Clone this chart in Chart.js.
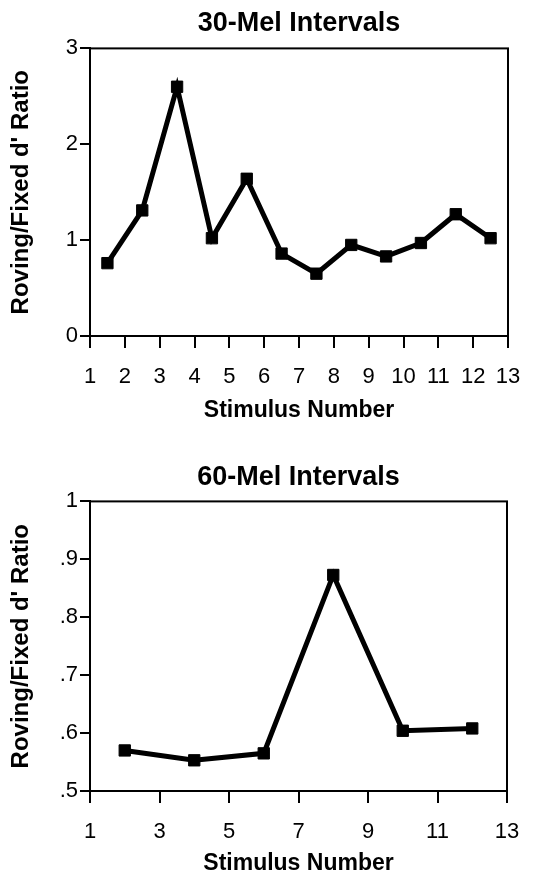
<!DOCTYPE html>
<html>
<head>
<meta charset="utf-8">
<script src="https://cdn.jsdelivr.net/npm/chart.js@4.4.1/dist/chart.umd.min.js"></script>
<style>
  body { margin: 0; background: #fff; }
  #wrap { position: relative; width: 533px; height: 875px; }
  canvas { position: absolute; left: 0; }
  #top { top: 0; }
  #bottom { top: 430px; }
</style>
</head>
<body>
<div id="wrap">
  <canvas id="top" width="533" height="428"></canvas>
  <canvas id="bottom" width="533" height="445"></canvas>
</div>
<script>
// DATOS
const stimulus30 = [1.5, 2.5, 3.5, 4.5, 5.5, 6.5, 7.5, 8.5, 9.5, 10.5, 11.5, 12.5];
const ratio30 = [0.76, 1.31, 2.60, 1.02, 1.64, 0.86, 0.65, 0.95, 0.83, 0.97, 1.27, 1.02];

const stimulus60 = [2, 4, 6, 8, 10, 12];
const ratio60 = [0.570, 0.553, 0.565, 0.873, 0.604, 0.608];

const xRange = [1, 13];
const yRange30 = [0, 3];
const yRange60 = [0.5, 1];

const titles = ['30-Mel Intervals', '60-Mel Intervals'];
const xTitle = 'Stimulus Number';
const yTitle = "Roving/Fixed d' Ratio";

Chart.defaults.font.family = '"Liberation Sans", Arial, sans-serif';
Chart.defaults.color = '#000';

// marco completo del area del grafico
const boxPlugin = {
  id: 'box',
  afterDraw(chart) {
    const a = chart.chartArea;
    const ctx = chart.ctx;
    ctx.save();
    ctx.strokeStyle = '#000';
    ctx.lineWidth = 2;
    ctx.strokeRect(a.left, a.top, a.right - a.left, a.bottom - a.top);
    ctx.restore();
  }
};

function makeChart(id, opts) {
  const ctx = document.getElementById(id).getContext('2d');
  return new Chart(ctx, {
    type: 'line',
    data: {
      datasets: [{
        data: opts.xs.map((x, i) => ({ x: x, y: opts.ys[i] })),
        borderColor: '#000',
        backgroundColor: '#000',
        borderWidth: 5,
        pointStyle: 'rect',
        pointRadius: 8,
        pointBorderWidth: 1,
        tension: 0
      }]
    },
    options: {
      responsive: false,
      animation: false,
      layout: { padding: { left: 0, right: opts.padRight, top: 0, bottom: 0 } },
      plugins: {
        legend: { display: false },
        tooltip: { enabled: false },
        title: {
          display: true,
          fullSize: false,
          text: opts.title,
          font: { size: 27, weight: 'bold' },
          padding: opts.titlePad
        }
      },
      scales: {
        x: {
          type: 'linear',
          min: xRange[0],
          max: xRange[1],
          ticks: { stepSize: opts.xStep, font: { size: 22 }, padding: 16, color: '#000' },
          grid: { drawOnChartArea: false, drawTicks: true, tickLength: 12, color: '#000', lineWidth: 2 },
          border: { color: '#000', width: 2 },
          title: { display: true, text: xTitle, font: { size: 23, weight: 'bold', lineHeight: 1 }, padding: { top: 0, bottom: opts.xTitlePad } },
          afterFit: (scale) => {
            scale.height = opts.xHeight;
            scale.paddingLeft = 0;
            scale.paddingRight = 0;
          }
        },
        y: {
          min: opts.yRange[0],
          max: opts.yRange[1],
          ticks: { stepSize: opts.yStep, font: { size: 22 }, padding: 2, color: '#000', callback: opts.yFormat },
          grid: { drawOnChartArea: false, drawTicks: true, tickLength: 10, color: '#000', lineWidth: 2 },
          border: { color: '#000', width: 2 },
          title: { display: true, text: yTitle, font: { size: 24, weight: 'bold' }, padding: { top: 7, bottom: 0 } },
          afterFit: (scale) => { scale.width = 90; }
        }
      }
    },
    plugins: [boxPlugin]
  });
}

makeChart('top', {
  xs: stimulus30, ys: ratio30, title: titles[0],
  titlePad: { top: 7, bottom: 9 },
  padRight: 25, xStep: 1, xHeight: 92, xTitlePad: 6,
  yRange: yRange30, yStep: 1,
  yFormat: (v) => String(v)
});

makeChart('bottom', {
  xs: stimulus60, ys: ratio60, title: titles[1],
  titlePad: { top: 31, bottom: 8 },
  padRight: 26, xStep: 2, xHeight: 84, xTitlePad: 0,
  yRange: yRange60, yStep: 0.1,
  yFormat: (v) => (v >= 0.999 ? '1' : v.toFixed(1).replace(/^0/, ''))
});
</script>
</body>
</html>
